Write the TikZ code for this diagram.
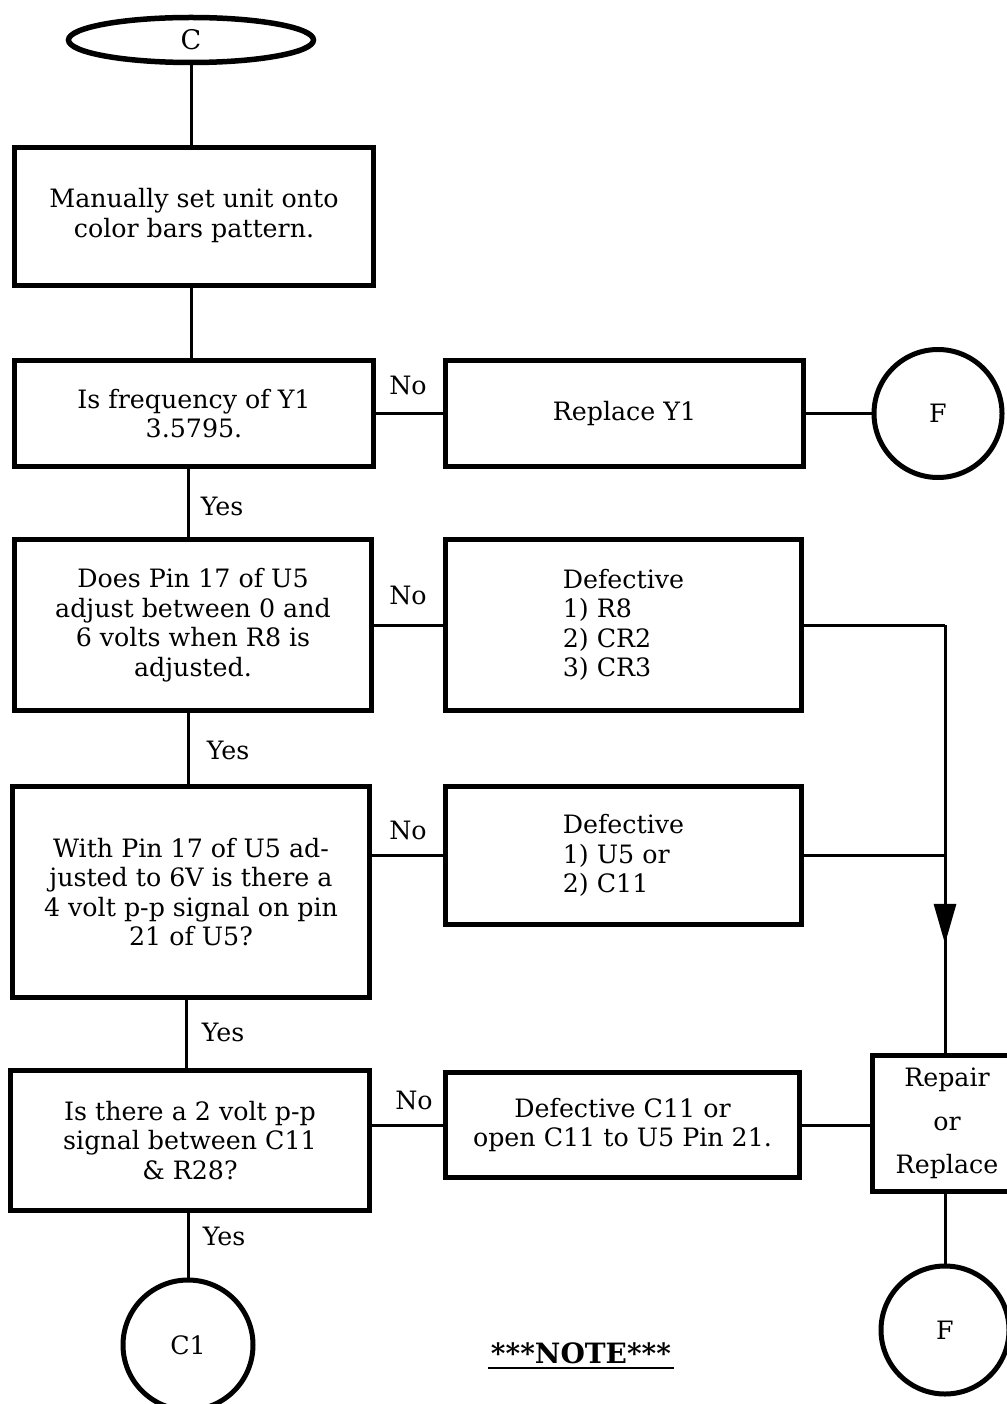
\documentclass[tikz,border=0pt]{standalone}
\usepackage{fontspec}
\setmainfont{DejaVu Serif}
\usetikzlibrary{shapes.geometric,arrows.meta,decorations.markings}
\newcommand{\flowfont}{\fontsize{25.3}{29.5}\selectfont}
\begin{document}
\begin{tikzpicture}[x=1pt,y=-1pt,
  box/.style={draw,line width=5pt,rectangle,inner sep=0pt,align=center,font=\flowfont},
  lbox/.style={draw,line width=5pt,rectangle,inner sep=0pt,align=left,font=\flowfont},
  conn/.style={line width=3pt},
  lbl/.style={font=\flowfont,inner sep=0pt},
  term/.style={draw,line width=5pt,circle,inner sep=0pt,font=\flowfont}]
\useasboundingbox (0,0) rectangle (1006,1404);

% terminals
\node[draw,line width=5.5pt,ellipse,minimum width=245pt,minimum height=45pt,inner sep=0pt,font=\fontsize{27}{30}\selectfont] (c) at (191,40) {C};

% left column
\node[box,minimum width=359pt,minimum height=138pt] (b1) at (194,216.5) {Manually set unit onto\\color bars pattern.\\[-22pt]};
\node[box,minimum width=359pt,minimum height=106pt] (b2) at (194,413.5) {Is frequency of Y1\\3.5795.};
\node[box,minimum width=357pt,minimum height=171pt] (b3) at (193,625) {Does Pin 17 of U5\\adjust between 0 and\\6 volts when R8 is\\adjusted.};
\node[box,minimum width=357pt,minimum height=211pt] (b4) at (191,892) {With Pin 17 of U5 ad-\\justed to 6V is there a\\4 volt p-p signal on pin\\21 of U5?};
\node[box,minimum width=359pt,minimum height=140pt] (b5) at (190,1140.5) {Is there a 2 volt p-p\\signal between C11\\\& R28?};
\node[term,minimum size=130pt] (c1) at (188,1345) {C1};

% middle column
\node[box,minimum width=358pt,minimum height=106pt] (r1) at (624.5,413.5) {Replace Y1};
\node[lbox,minimum width=356pt,minimum height=171pt] (d1) at (623.5,625) {Defective\\1) R8\\2) CR2\\3) CR3};
\node[lbox,minimum width=356pt,minimum height=138pt] (d2) at (623.5,855.5) {Defective\\1) U5 or\\2) C11};
\node[box,minimum width=354pt,minimum height=105pt] (d3) at (622.5,1125) {Defective C11 or\\open C11 to U5 Pin 21.};

% right column
\node[term,minimum size=128pt] (f1) at (938,413.5) {F};
\node[box,minimum width=150pt,minimum height=136pt,align=center] (rep) at (947,1123.5) {Repair\\[14pt]or\\[14pt]Replace};
\node[term,minimum size=128pt] (f2) at (945,1330) {F};

\coordinate (j1) at (945,625);
\coordinate (j2) at (945,855.5);

% vertical flow
\draw[conn] (c) -- (b1.north -| c);
\draw[conn] (b1.south -| c) -- (b2.north -| c);
\draw[conn] (b2.south -| 188,0) -- (b3.north -| 188,0);
\draw[conn] (b3.south -| 188,0) -- (b4.north -| 188,0);
\draw[conn] (b4.south -| 186,0) -- (b5.north -| 186,0);
\draw[conn] (b5.south -| c1) -- (c1);

% horizontal flow
\draw[conn] (b2.east) -- (r1.west);
\draw[conn] (r1.east) -- (f1);
\draw[conn] (b3.east) -- (d1.west);
\draw[conn] (b4.east |- d2.west) -- (d2.west);
\draw[conn] (b5.east |- d3.west) -- (d3.west);
\draw[conn] (d3.east) -- (rep.west |- d3.east);
\draw[conn] (d1.east) -- (j1);
\draw[conn] (d2.east) -- (j2);
\draw[conn, decoration={markings, mark=at position 0.745 with {\arrow{Triangle[width=22pt,length=40pt]}}}, postaction={decorate}] (j1) -- (rep.north -| j1);
\draw[conn] (rep.south -| f2) -- (f2);

% labels
\node[lbl] (n1) at (408,385) {No};
\node[lbl] (y1) at (222,506) {Yes};
\node[lbl] (n2) at (408,595) {No};
\node[lbl] (y2) at (228,750) {Yes};
\node[lbl] (n3) at (408,830) {No};
\node[lbl] (y3) at (223,1032) {Yes};
\node[lbl] (n4) at (414,1100) {No};
\node[lbl] (y4) at (224,1236) {Yes};

% note
\node[lbl,font=\fontsize{28}{30}\selectfont\bfseries] (note) at (581,1353) {***NOTE***};
\coordinate (ul) at (0,1368);
\draw[line width=2pt] ([xshift=-3pt]note.west |- ul) -- ([xshift=3pt]note.east |- ul);
\end{tikzpicture}
\end{document}
